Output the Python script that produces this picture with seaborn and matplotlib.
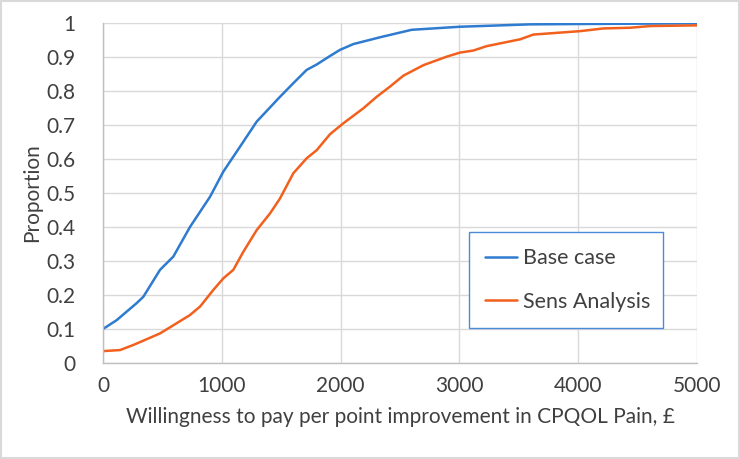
import numpy as np
import pandas as pd
import seaborn as sns
import matplotlib.pyplot as plt
from matplotlib.patches import Rectangle
from matplotlib.ticker import FuncFormatter

# values
base_wtp = [0, 115, 283, 340, 480, 592, 732, 901, 1013, 1153, 1294, 1490, 1602,
            1714, 1799, 1911, 1995, 2107, 2332, 2598, 3005, 3594, 4436, 5000]
base_prop = [0.10, 0.126, 0.176, 0.195, 0.274, 0.313, 0.40, 0.489, 0.563, 0.636,
             0.71, 0.783, 0.823, 0.862, 0.878, 0.903, 0.921, 0.938, 0.958, 0.980,
             0.989, 0.996, 0.998, 0.999]

sens_wtp = [0, 143, 255, 368, 480, 620, 732, 817, 929, 1013, 1097, 1181, 1294,
            1406, 1490, 1602, 1714, 1799, 1911, 2023, 2191, 2304, 2416, 2528,
            2697, 2893, 3005, 3118, 3230, 3371, 3511, 3623, 4015, 4212, 4436,
            4604, 5000]
sens_prop = [0.035, 0.038, 0.053, 0.07, 0.087, 0.117, 0.141, 0.166, 0.215, 0.249,
             0.274, 0.327, 0.391, 0.44, 0.484, 0.558, 0.602, 0.626, 0.673, 0.705,
             0.749, 0.783, 0.813, 0.845, 0.876, 0.901, 0.913, 0.919, 0.932, 0.942,
             0.952, 0.966, 0.976, 0.984, 0.986, 0.991, 0.993]

series_names = ['Base case', 'Sens Analysis']
colors = ['#2E7BCF', '#F2601D']

df = pd.concat([
    pd.DataFrame({'wtp': base_wtp, 'prop': base_prop, 'series': series_names[0]}),
    pd.DataFrame({'wtp': sens_wtp, 'prop': sens_prop, 'series': series_names[1]}),
])

sns.set_style('whitegrid')
plt.rcParams['font.family'] = ['Lato', 'DejaVu Sans']

fig = plt.figure(figsize=(7.4, 4.59), dpi=100)
ax = fig.add_axes([103 / 740, 1 - 363 / 459, 594 / 740, 340 / 459])

sns.lineplot(data=df, x='wtp', y='prop', hue='series', hue_order=series_names,
             palette=colors, linewidth=1.8, ax=ax, estimator=None, sort=True)

ax.set_xlim(0, 5000)
ax.set_ylim(0, 1)
ax.set_xticks(np.arange(0, 5001, 1000))
ax.set_yticks(np.arange(0, 1.01, 0.1))
ax.yaxis.set_major_formatter(FuncFormatter(lambda v, p: '%g' % round(v, 1)))
ax.tick_params(axis='both', length=0, labelsize=15, colors='#404040')
ax.tick_params(axis='x', pad=9)
ax.tick_params(axis='y', pad=20)
ax.grid(True, color='#D9D9D9', linewidth=1)

for s in ['top', 'right']:
    ax.spines[s].set_visible(False)
for s in ['left', 'bottom']:
    ax.spines[s].set_color('#BFBFBF')
    ax.spines[s].set_linewidth(1)

ax.set_xlabel('Willingness to pay per point improvement in CPQOL Pain, \u00a3',
              fontsize=15, color='#404040', labelpad=8)
ax.set_ylabel('Proportion', fontsize=15, color='#404040', labelpad=3)

leg = ax.legend(loc='lower left', bbox_to_anchor=(0.616, 0.103, 0.327, 0.279),
                mode='expand', fontsize=15.5, frameon=True, fancybox=False,
                handlelength=1.5, handletextpad=0.25, labelspacing=1.1,
                borderpad=0.75, borderaxespad=0)
leg.get_frame().set_edgecolor('#4A8AD8')
leg.get_frame().set_linewidth(1)
leg.get_frame().set_alpha(1)
for t in leg.get_texts():
    t.set_color('#404040')

fig.patches.append(Rectangle((0.002, 0.003), 0.996, 0.994, transform=fig.transFigure,
                             fill=False, edgecolor='#D9D9D9', linewidth=1.5))

fig.savefig('out.png', dpi=100)
